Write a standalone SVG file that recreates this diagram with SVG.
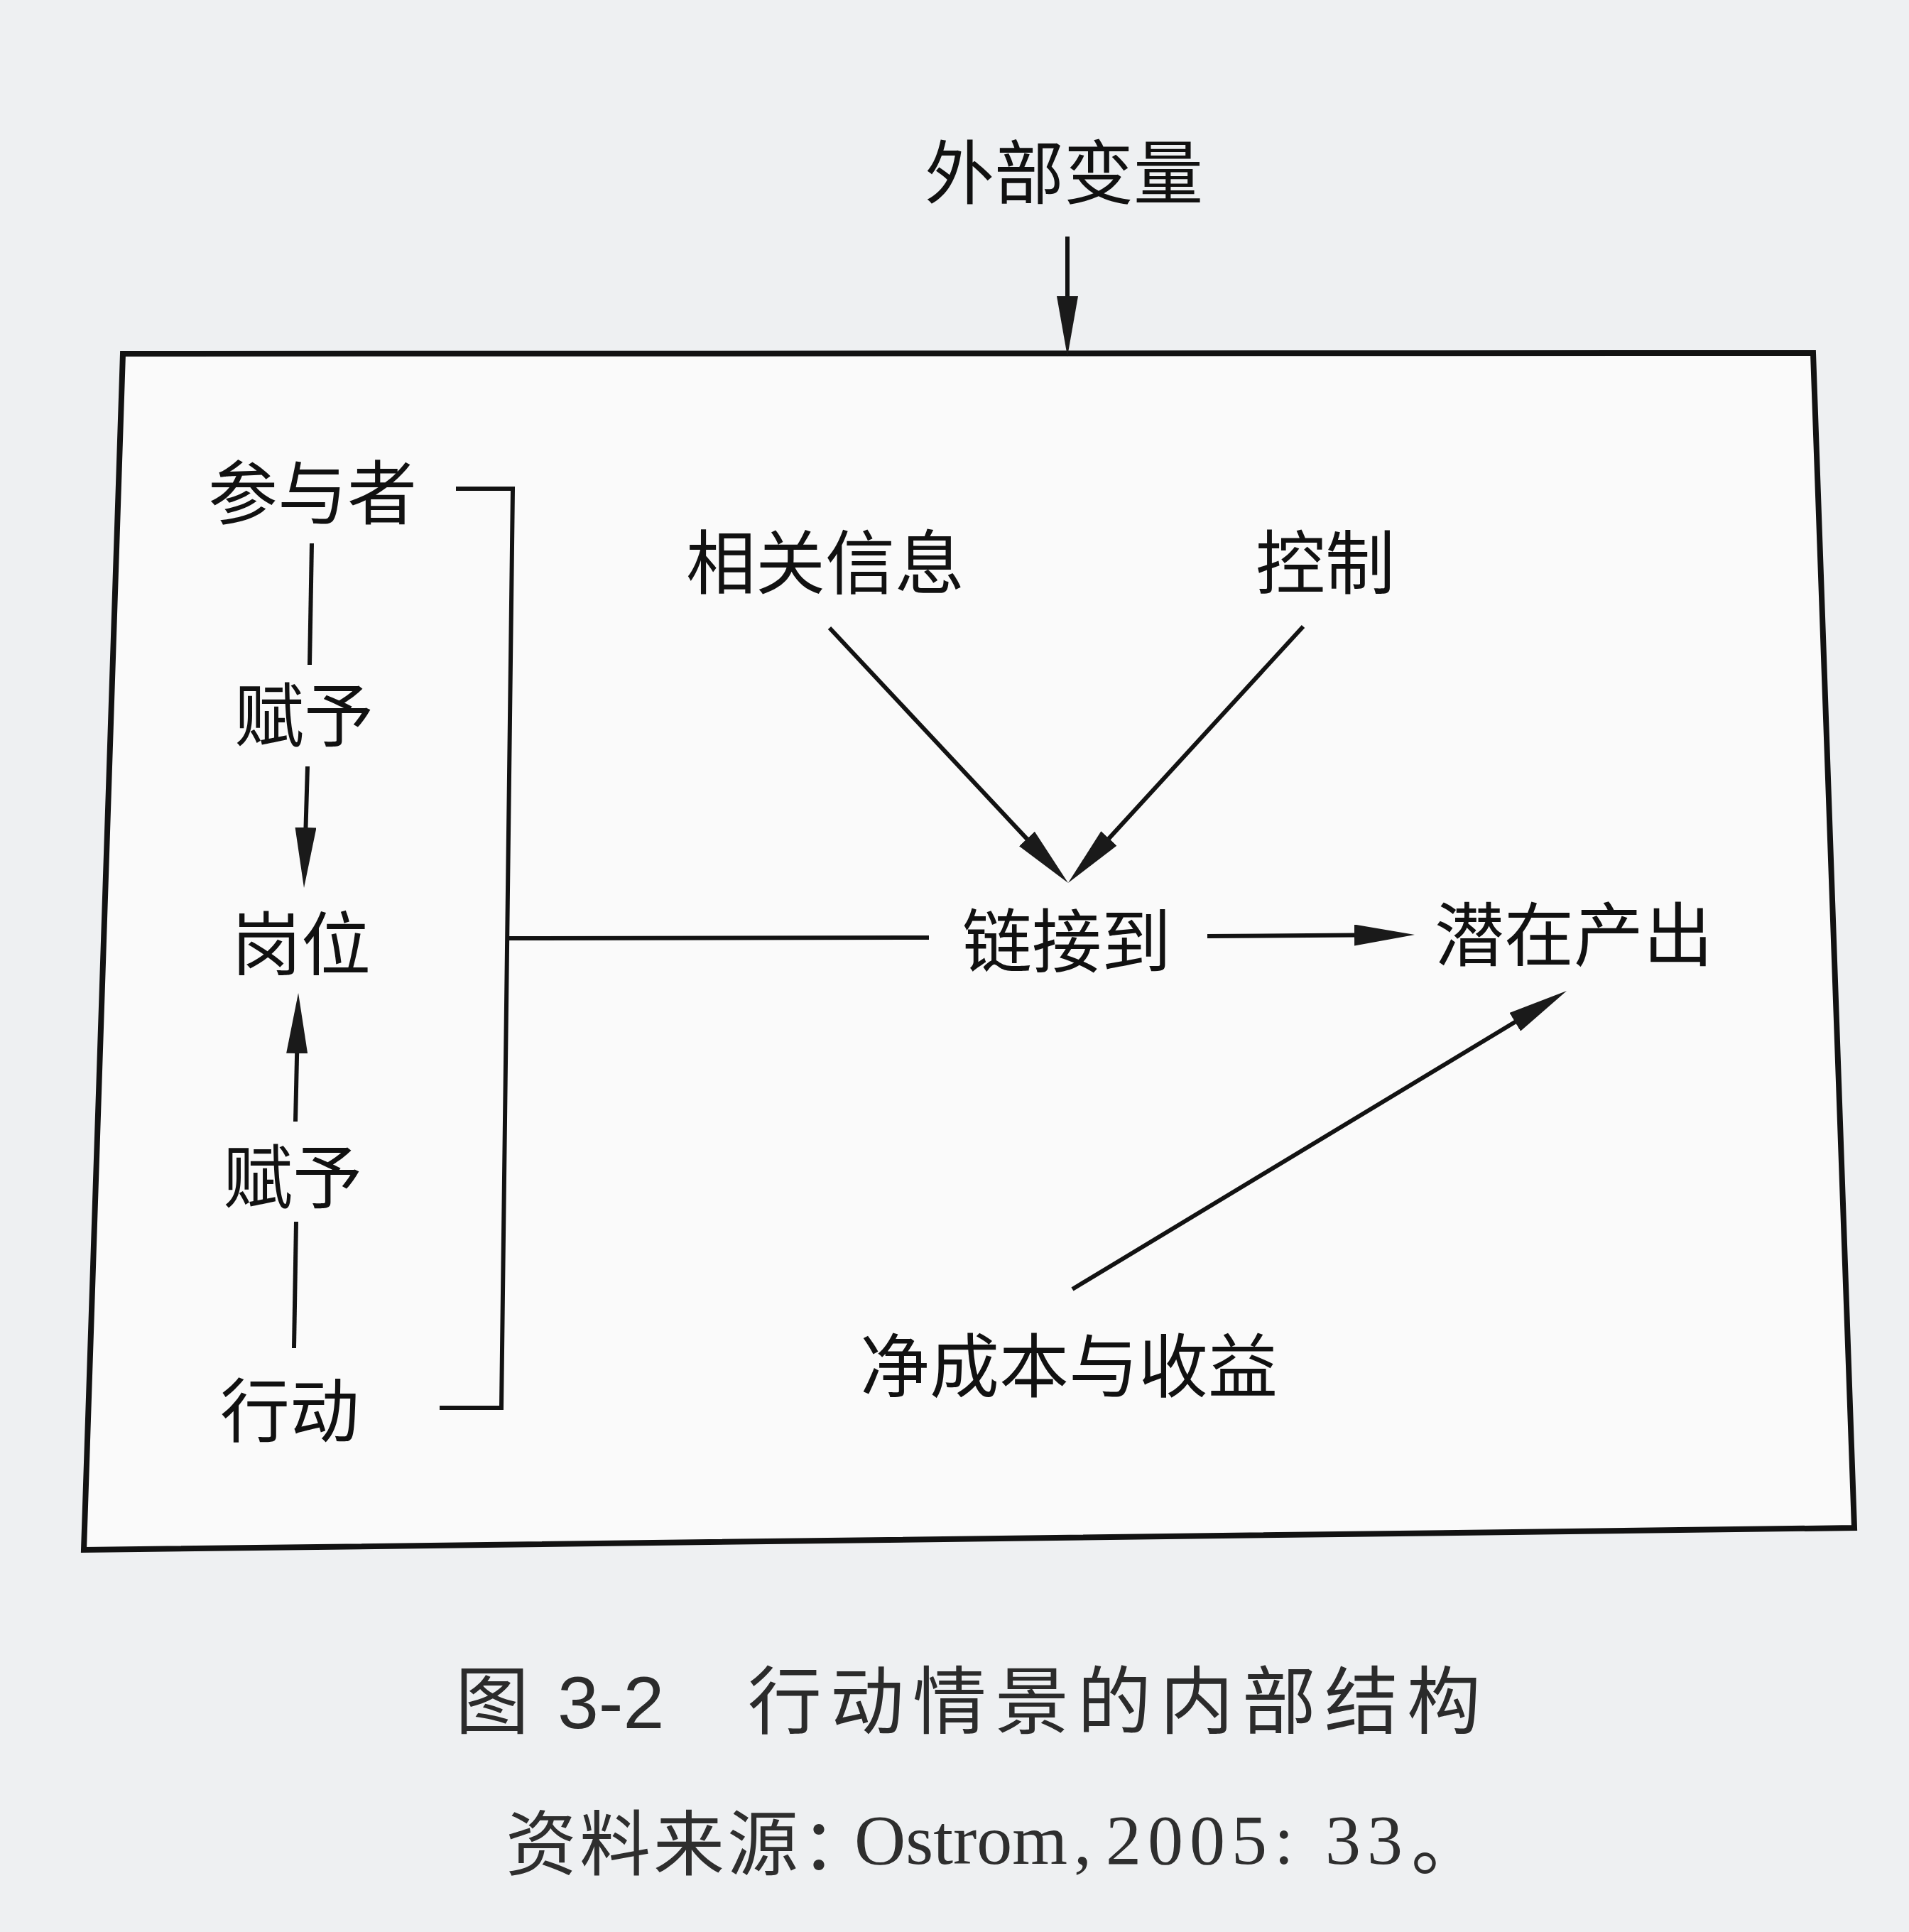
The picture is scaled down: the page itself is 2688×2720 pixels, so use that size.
<svg xmlns="http://www.w3.org/2000/svg" width="2688" height="2720" viewBox="0 0 2688 2720">
<defs>
<style>
.lbl{font-family:"Noto Sans CJK SC","Noto Sans",sans-serif;font-size:98px;fill:#111;text-anchor:middle}
.cap{font-family:"Noto Sans CJK SC","Noto Sans",sans-serif;font-size:104px;fill:#2b2b2b}
.capl{font-family:"Liberation Sans","Noto Sans CJK SC",sans-serif;font-size:104px;fill:#2b2b2b}
.src{font-family:"Noto Sans CJK SC","Noto Sans",sans-serif;font-size:100px;fill:#2e2e2e}
.srcl{font-family:"Liberation Serif","Noto Sans CJK SC",serif;font-size:100px;fill:#2e2e2e}
.ln{fill:none;stroke:#121212;stroke-width:6;stroke-linecap:butt}
.ar{fill:none;stroke:#121212;stroke-width:6;marker-end:url(#ah)}
.box{fill:#fafafa;stroke:#121212;stroke-width:8;stroke-linejoin:miter}
</style>
<marker id="ah" markerUnits="userSpaceOnUse" viewBox="0 0 85 30" markerWidth="85" markerHeight="30" refX="65" refY="15" orient="auto">
<path d="M0,0 L85,15 L0,30 Z" fill="#1a1a1a"/>
</marker>
</defs>
<rect width="2688" height="2720" fill="#eef0f2"/>
<g id="frame">
<polygon class="box" points="173,498 2553,497 2611,2151 118,2182"/>
</g>
<g id="connectors">
<line class="ar" x1="1503" y1="333" x2="1503" y2="482"/>
<line class="ln" x1="439" y1="765" x2="436" y2="936"/>
<line class="ar" x1="433" y1="1079" x2="428.6" y2="1230"/>
<line class="ar" x1="416" y1="1579" x2="419.6" y2="1418"/>
<line class="ln" x1="417" y1="1720" x2="414" y2="1898"/>
<polyline class="ln" points="642,688 722,688 706,1982 619,1982"/>
<line class="ln" x1="714" y1="1321" x2="1308" y2="1320"/>
<line class="ar" x1="1168" y1="884" x2="1490.3" y2="1228.4"/>
<line class="ar" x1="1835" y1="882" x2="1517.5" y2="1228.3"/>
<line class="ar" x1="1700" y1="1318" x2="1972" y2="1316.1"/>
<line class="ar" x1="1510" y1="1815" x2="2188.9" y2="1405.3"/>
</g>
<g id="n-external"><text class="lbl" x="1498" y="279">外部变量</text></g>
<g id="n-participants"><text class="lbl" x="440" y="730">参与者</text></g>
<g id="n-assign1"><text class="lbl" x="428" y="1043">赋予</text></g>
<g id="n-positions"><text class="lbl" x="424" y="1365">岗位</text></g>
<g id="n-assign2"><text class="lbl" x="412" y="1693">赋予</text></g>
<g id="n-actions"><text class="lbl" x="408" y="2022">行动</text></g>
<g id="n-info"><text class="lbl" x="1162" y="828">相关信息</text></g>
<g id="n-control"><text class="lbl" x="1866" y="828">控制</text></g>
<g id="n-linked"><text class="lbl" x="1502" y="1361">链接到</text></g>
<g id="n-outcomes"><text class="lbl" x="2216" y="1352">潜在产出</text></g>
<g id="n-costs"><text class="lbl" x="1505" y="1959">净成本与收益</text></g>
<g id="caption">
<text class="cap" x="641" y="2433">图</text>
<text class="capl" x="785" y="2433">3-2</text>
<text class="cap" x="1053" y="2433" letter-spacing="12">行动情景的内部结构</text>
</g>
<g id="source">
<text class="src" x="712" y="2632" letter-spacing="4">资料来源：</text>
<text class="srcl" x="1203" y="2624">Ostrom</text>
<text class="srcl" x="1512" y="2624">,</text>
<text class="srcl" x="1557" y="2624" letter-spacing="9">2005</text>
<text class="srcl" x="1794" y="2624">:</text>
<text class="srcl" x="1866" y="2624" letter-spacing="9">33</text>
<text class="src" x="1987" y="2632">。</text>
</g>
</svg>
